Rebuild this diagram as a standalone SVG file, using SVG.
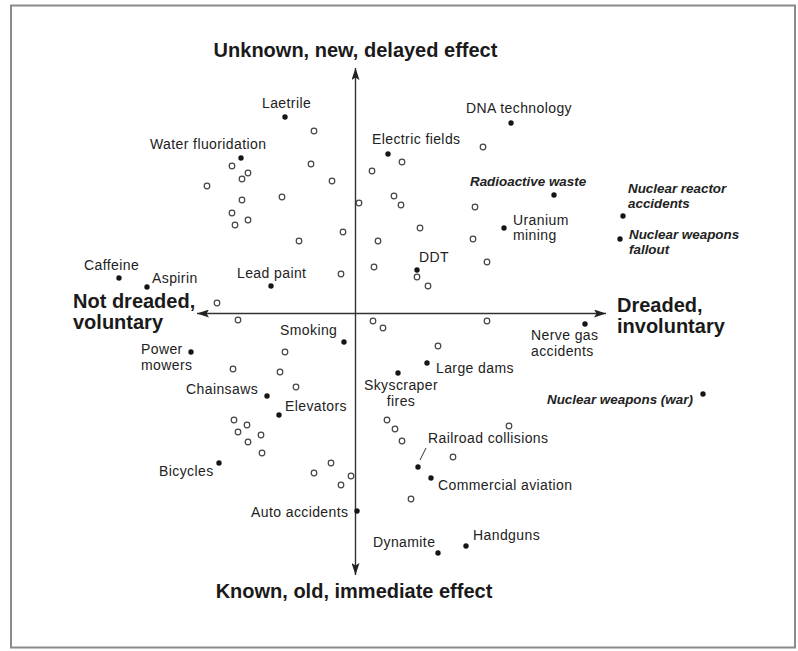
<svg xmlns="http://www.w3.org/2000/svg" width="798" height="651" viewBox="0 0 798 651">
<style>
  text { font-family: "Liberation Sans", Arial, Helvetica, sans-serif; fill: #222; }
  .lbl { font-size: 14px; letter-spacing: 0.4px; }
  .hot { font-size: 13.4px; font-weight: bold; font-style: italic; }
  .axis-title { font-size: 20px; font-weight: bold; fill: #1a1a1a; }
  .dot { fill: #151515; }
  .open { fill: #fff; stroke: #444; stroke-width: 1.2; }
  .axis { stroke: #333; stroke-width: 1.4; fill: none; }
  .leader { stroke: #333; stroke-width: 1; }
</style>
<defs>
  <marker id="arrow" viewBox="0 0 12 8" refX="12" refY="4" markerWidth="12" markerHeight="8" markerUnits="userSpaceOnUse" orient="auto-start-reverse">
    <path d="M0,0 L12,4 L0,8 L2.5,4 Z" fill="#222"/>
  </marker>
</defs>
<rect x="0" y="0" width="798" height="651" fill="#fff"/>
<rect x="11" y="5.5" width="784" height="642" fill="none" stroke="#8a8a8a" stroke-width="2"/>

<g id="connectors">
  <line class="axis" x1="355.5" y1="575" x2="355.5" y2="68" marker-start="url(#arrow)" marker-end="url(#arrow)"/>
  <line class="axis" x1="197" y1="313.5" x2="606" y2="313.5" marker-start="url(#arrow)" marker-end="url(#arrow)"/>
  <line class="leader" x1="426" y1="448" x2="420" y2="460"/>
</g>

<g id="axis-titles">
  <text class="axis-title" x="355.5" y="57" text-anchor="middle">Unknown, new, delayed effect</text>
  <text class="axis-title" x="354" y="598" text-anchor="middle">Known, old, immediate effect</text>
  <text class="axis-title" x="73" y="308">Not dreaded,<tspan x="73" dy="21">voluntary</tspan></text>
  <text class="axis-title" x="617" y="312">Dreaded,<tspan x="617" dy="21">involuntary</tspan></text>
</g>

<g id="open-points">
  <circle class="open" cx="314" cy="131" r="2.8"/>
  <circle class="open" cx="232" cy="166" r="2.8"/>
  <circle class="open" cx="311" cy="164" r="2.8"/>
  <circle class="open" cx="248" cy="173" r="2.8"/>
  <circle class="open" cx="242" cy="179" r="2.8"/>
  <circle class="open" cx="207" cy="186" r="2.8"/>
  <circle class="open" cx="332" cy="181" r="2.8"/>
  <circle class="open" cx="242" cy="200" r="2.8"/>
  <circle class="open" cx="282" cy="197" r="2.8"/>
  <circle class="open" cx="359" cy="203" r="2.8"/>
  <circle class="open" cx="232" cy="213" r="2.8"/>
  <circle class="open" cx="235" cy="225" r="2.8"/>
  <circle class="open" cx="248" cy="220" r="2.8"/>
  <circle class="open" cx="299" cy="241" r="2.8"/>
  <circle class="open" cx="343" cy="232" r="2.8"/>
  <circle class="open" cx="341" cy="274" r="2.8"/>
  <circle class="open" cx="217" cy="303" r="2.8"/>
  <circle class="open" cx="238" cy="320" r="2.8"/>
  <circle class="open" cx="483" cy="147" r="2.8"/>
  <circle class="open" cx="402" cy="162" r="2.8"/>
  <circle class="open" cx="372" cy="171" r="2.8"/>
  <circle class="open" cx="394" cy="196" r="2.8"/>
  <circle class="open" cx="401" cy="205" r="2.8"/>
  <circle class="open" cx="475" cy="207" r="2.8"/>
  <circle class="open" cx="420" cy="228" r="2.8"/>
  <circle class="open" cx="473" cy="239" r="2.8"/>
  <circle class="open" cx="378" cy="241" r="2.8"/>
  <circle class="open" cx="417" cy="277" r="2.8"/>
  <circle class="open" cx="428" cy="286" r="2.8"/>
  <circle class="open" cx="374" cy="267" r="2.8"/>
  <circle class="open" cx="487" cy="262" r="2.8"/>
  <circle class="open" cx="373" cy="321" r="2.8"/>
  <circle class="open" cx="383" cy="328" r="2.8"/>
  <circle class="open" cx="487" cy="321" r="2.8"/>
  <circle class="open" cx="438" cy="346" r="2.8"/>
  <circle class="open" cx="285" cy="352" r="2.8"/>
  <circle class="open" cx="233" cy="369" r="2.8"/>
  <circle class="open" cx="280" cy="372" r="2.8"/>
  <circle class="open" cx="296" cy="387" r="2.8"/>
  <circle class="open" cx="234" cy="420" r="2.8"/>
  <circle class="open" cx="247" cy="425" r="2.8"/>
  <circle class="open" cx="238" cy="432" r="2.8"/>
  <circle class="open" cx="261" cy="435" r="2.8"/>
  <circle class="open" cx="248" cy="442" r="2.8"/>
  <circle class="open" cx="262" cy="453" r="2.8"/>
  <circle class="open" cx="331" cy="463" r="2.8"/>
  <circle class="open" cx="314" cy="473" r="2.8"/>
  <circle class="open" cx="341" cy="485" r="2.8"/>
  <circle class="open" cx="351" cy="476" r="2.8"/>
  <circle class="open" cx="387" cy="420" r="2.8"/>
  <circle class="open" cx="395" cy="429" r="2.8"/>
  <circle class="open" cx="402" cy="441" r="2.8"/>
  <circle class="open" cx="509" cy="426" r="2.8"/>
  <circle class="open" cx="453" cy="457" r="2.8"/>
  <circle class="open" cx="411" cy="499" r="2.8"/>
</g>

<g id="laetrile"><circle class="dot" cx="285" cy="117" r="2.7"/><text class="lbl" x="262" y="108">Laetrile</text></g>
<g id="water-fluoridation"><circle class="dot" cx="241" cy="158" r="2.7"/><text class="lbl" x="150" y="149">Water fluoridation</text></g>
<g id="caffeine"><circle class="dot" cx="119" cy="278" r="2.7"/><text class="lbl" x="84" y="270">Caffeine</text></g>
<g id="aspirin"><circle class="dot" cx="147" cy="287" r="2.7"/><text class="lbl" x="152" y="283">Aspirin</text></g>
<g id="lead-paint"><circle class="dot" cx="271" cy="286" r="2.7"/><text class="lbl" x="237" y="278">Lead paint</text></g>
<g id="dna-technology"><circle class="dot" cx="511" cy="123" r="2.7"/><text class="lbl" x="466" y="113">DNA technology</text></g>
<g id="electric-fields"><circle class="dot" cx="388" cy="154" r="2.7"/><text class="lbl" x="372" y="144">Electric fields</text></g>
<g id="radioactive-waste"><circle class="dot" cx="554" cy="195" r="2.7"/><text class="hot" x="470" y="186">Radioactive waste</text></g>
<g id="nuclear-reactor-accidents"><circle class="dot" cx="623" cy="216" r="2.7"/><text class="hot" x="628" y="193">Nuclear reactor<tspan x="628" dy="15">accidents</tspan></text></g>
<g id="nuclear-weapons-fallout"><circle class="dot" cx="620" cy="239" r="2.7"/><text class="hot" x="629" y="239">Nuclear weapons<tspan x="629" dy="15">fallout</tspan></text></g>
<g id="uranium-mining"><circle class="dot" cx="504" cy="228" r="2.7"/><text class="lbl" x="513" y="225">Uranium<tspan x="513" dy="15">mining</tspan></text></g>
<g id="ddt"><circle class="dot" cx="417" cy="270" r="2.7"/><text class="lbl" x="419" y="262">DDT</text></g>
<g id="smoking"><circle class="dot" cx="344" cy="342" r="2.7"/><text class="lbl" x="280" y="335">Smoking</text></g>
<g id="power-mowers"><circle class="dot" cx="191" cy="352" r="2.7"/><text class="lbl" x="141" y="354">Power<tspan x="141" dy="15.5">mowers</tspan></text></g>
<g id="chainsaws"><circle class="dot" cx="267" cy="396" r="2.7"/><text class="lbl" x="186" y="394">Chainsaws</text></g>
<g id="elevators"><circle class="dot" cx="279" cy="415" r="2.7"/><text class="lbl" x="285" y="411">Elevators</text></g>
<g id="bicycles"><circle class="dot" cx="219" cy="463" r="2.7"/><text class="lbl" x="159" y="476">Bicycles</text></g>
<g id="auto-accidents"><circle class="dot" cx="357" cy="511" r="2.7"/><text class="lbl" x="251" y="517">Auto accidents</text></g>
<g id="nerve-gas-accidents"><circle class="dot" cx="585" cy="324" r="2.7"/><text class="lbl" x="531" y="340">Nerve gas<tspan x="531" dy="15.5">accidents</tspan></text></g>
<g id="large-dams"><circle class="dot" cx="427" cy="363" r="2.7"/><text class="lbl" x="436" y="373">Large dams</text></g>
<g id="skyscraper-fires"><circle class="dot" cx="398" cy="373" r="2.7"/><text class="lbl" x="401" y="390" text-anchor="middle">Skyscraper<tspan x="401" dy="15.5">fires</tspan></text></g>
<g id="railroad-collisions"><circle class="dot" cx="418" cy="467" r="2.7"/><text class="lbl" x="428" y="443">Railroad collisions</text></g>
<g id="commercial-aviation"><circle class="dot" cx="431" cy="478" r="2.7"/><text class="lbl" x="438" y="490">Commercial aviation</text></g>
<g id="dynamite"><circle class="dot" cx="438" cy="553" r="2.7"/><text class="lbl" x="373" y="547">Dynamite</text></g>
<g id="handguns"><circle class="dot" cx="466" cy="546" r="2.7"/><text class="lbl" x="473" y="540">Handguns</text></g>
<g id="nuclear-weapons-war"><circle class="dot" cx="703" cy="394" r="2.7"/><text class="hot" x="547" y="404">Nuclear weapons (war)</text></g>
</svg>
